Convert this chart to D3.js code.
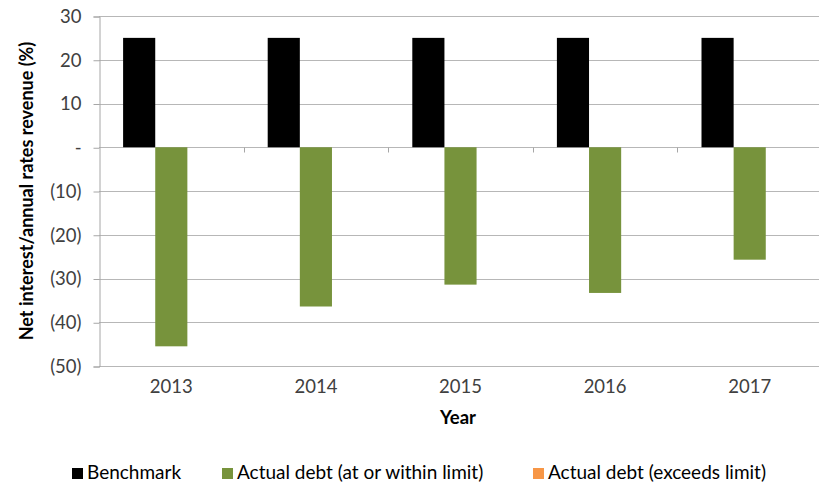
<!DOCTYPE html>
<html>
<head>
<meta charset="utf-8">
<script src="https://cdn.jsdelivr.net/npm/d3@7"></script>
<style>
  html, body { margin: 0; padding: 0; background: #fff; }
  svg { display: block; font-family: Lato, "Open Sans", sans-serif; }
</style>
</head>
<body>
<svg id="chart" width="819" height="489"></svg>
<script>
// Net interest as a share of annual rates revenue, by year
const years = ["2013", "2014", "2015", "2016", "2017"];
const seriesNames = ["Benchmark", "Actual debt (at or within limit)", "Actual debt (exceeds limit)"];
const benchmark = [25, 25, 25, 25, 25];
const withinLimit = [-45.5, -36.4, -31.4, -33.3, -25.7];
const exceedsLimit = [null, null, null, null, null];
const yTicks = [30, 20, 10, 0, -10, -20, -30, -40, -50];
const seriesColors = ["#000000", "#77933c", "#f79646"];

const seriesValues = [benchmark, withinLimit, exceedsLimit];

const svg = d3.select("#chart");
const plot = { left: 99, right: 822, top: 16, bottom: 366 };

const x0 = d3.scaleBand().domain(years).range([plot.left, plot.right]).padding(0);
const x1 = d3.scaleBand().domain(seriesNames).range([0, x0.bandwidth()])
  .paddingInner(0).paddingOuter(0.75);
const y = d3.scaleLinear().domain([-50, 30]).range([plot.bottom, plot.top]);

const fmt = v => v === 0 ? "-" : (v < 0 ? "(" + Math.abs(v) + ")" : String(v));

// horizontal gridlines
svg.append("g")
  .selectAll("line")
  .data(yTicks)
  .join("line")
  .attr("x1", plot.left).attr("x2", 819)
  .attr("y1", d => Math.round(y(d)) + 0.5).attr("y2", d => Math.round(y(d)) + 0.5)
  .attr("stroke", "#b7b7b7").attr("stroke-width", 1);

// y axis
const yAxis = svg.append("g")
  .attr("transform", `translate(${plot.left + 0.5},0.5)`)
  .call(d3.axisLeft(y).tickValues(yTicks).tickFormat(fmt).tickSize(6).tickPadding(12));
yAxis.select(".domain").attr("stroke", "#a6a6a6");
yAxis.selectAll(".tick line").attr("stroke", "#a6a6a6");
yAxis.selectAll(".tick text")
  .attr("fill", "#404040").attr("font-size", 18.5)
  .attr("font-family", "Lato, 'Open Sans', sans-serif");

// bars
const groups = svg.append("g")
  .selectAll("g")
  .data(years)
  .join("g")
  .attr("transform", d => `translate(${x0(d)},0)`);

groups.selectAll("rect")
  .data((d, i) => seriesNames.map((s, k) => ({ s, k, v: seriesValues[k][i] })).filter(e => e.v != null))
  .join("rect")
  .attr("x", d => x1(d.s))
  .attr("width", x1.bandwidth())
  .attr("y", d => y(Math.max(0, d.v)))
  .attr("height", d => Math.abs(y(d.v) - y(0)))
  .attr("fill", d => seriesColors[d.k]);

// category axis along zero, tick marks between categories
const xAxis = svg.append("g")
  .attr("transform", `translate(0,${Math.round(y(0)) + 0.5})`);
xAxis.selectAll("line")
  .data(years.slice(1))
  .join("line")
  .attr("x1", d => Math.round(x0(d)) + 0.5).attr("x2", d => Math.round(x0(d)) + 0.5)
  .attr("y1", 0).attr("y2", 5)
  .attr("stroke", "#a6a6a6");

// year labels below the plot
svg.append("g")
  .selectAll("text")
  .data(years)
  .join("text")
  .attr("x", d => x0(d) + x0.bandwidth() / 2)
  .attr("y", 393)
  .attr("text-anchor", "middle")
  .attr("fill", "#404040")
  .attr("font-size", 18.5)
  .text(d => d);

// axis titles
svg.append("text")
  .attr("x", 458).attr("y", 424)
  .attr("text-anchor", "middle")
  .attr("font-weight", "bold").attr("font-size", 18.5)
  .attr("fill", "#000")
  .text("Year");

svg.append("text")
  .attr("transform", "translate(33,191) rotate(-90)")
  .attr("text-anchor", "middle")
  .attr("font-weight", "bold").attr("font-size", 18)
  .attr("fill", "#000")
  .text("Net interest/annual rates revenue (%)");

// legend
const legendX = [72, 222, 533];
const legend = svg.append("g")
  .selectAll("g")
  .data(seriesNames)
  .join("g")
  .attr("transform", (d, i) => `translate(${legendX[i]},473)`);
legend.append("rect")
  .attr("x", 0).attr("y", -5).attr("width", 11).attr("height", 11)
  .attr("fill", (d, i) => seriesColors[i]);
legend.append("text")
  .attr("x", 15).attr("y", 6)
  .attr("fill", "#000")
  .attr("font-size", 19)
  .text(d => d);
</script>
</body>
</html>
